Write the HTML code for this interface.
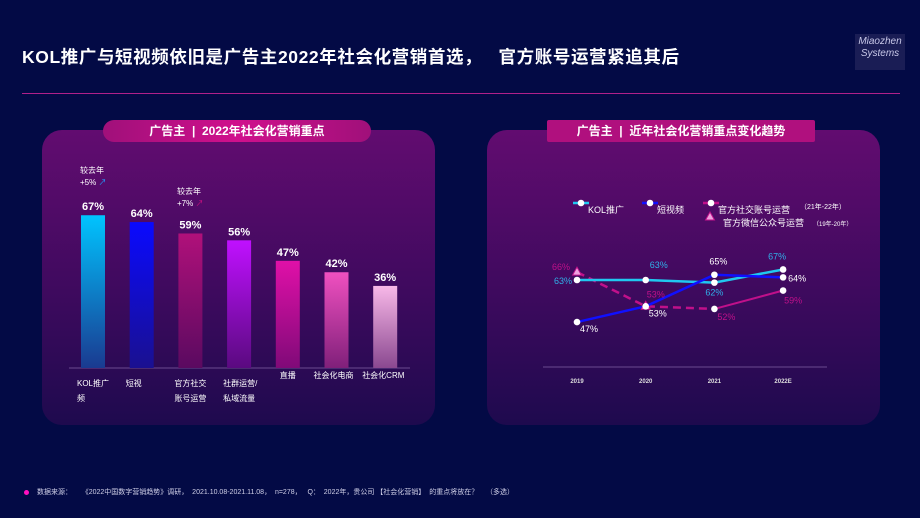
<!DOCTYPE html>
<html><head><meta charset="utf-8">
<style>
body{margin:0;width:920px;height:518px;background:#030a45;overflow:hidden;font-family:"Liberation Sans","Noto Sans CJK SC",sans-serif;color:#fff;position:relative}
.abs{position:absolute}
.panel{position:absolute;top:130px;width:393px;height:295px;border-radius:20px;background:linear-gradient(180deg,#620c70 0%,#3e0a5e 55%,#1e0a4e 100%)}
.pill{position:absolute;height:22px;border-radius:11px;background:linear-gradient(90deg,#a0107a,#d0108c,#a0107a);font-size:12px;font-weight:bold;line-height:22px;text-align:center}
</style></head><body>
<div class="abs" style="left:22px;top:44px;font-size:17.5px;font-weight:bold;letter-spacing:0.6px">KOL推广与短视频依旧是广告主2022年社会化营销首选，&nbsp;&nbsp;&nbsp;官方账号运营紧追其后</div>
<div class="abs" style="left:855px;top:34px;width:50px;height:34px;background:#1a1d55;color:#c8c8e8;font-size:10px;line-height:12px;font-style:italic;text-align:center;padding-top:2px">Miaozhen<br>Systems</div>
<div class="abs" style="left:22px;top:93px;width:878px;height:1px;background:#b0208a"></div>

<div class="panel" style="left:42px"></div>
<div class="pill" style="left:103px;top:120px;width:268px">广告主 &nbsp;|&nbsp; 2022年社会化营销重点</div>
<div class="panel" style="left:487px"></div>
<div class="pill" style="left:547px;top:120px;width:268px;border-radius:2px;background:#b0107e">广告主 &nbsp;|&nbsp; 近年社会化营销重点变化趋势</div>

<svg class="abs" style="left:0;top:0" width="920" height="518" id="svg">
<defs>
<linearGradient id="g0" x1="0" y1="0" x2="0" y2="1"><stop offset="0" stop-color="#00c4ff"/><stop offset="1" stop-color="#1a3a90"/></linearGradient>
<linearGradient id="g1" x1="0" y1="0" x2="0" y2="1"><stop offset="0" stop-color="#0a0aff"/><stop offset="1" stop-color="#1a1090"/></linearGradient>
<linearGradient id="g2" x1="0" y1="0" x2="0" y2="1"><stop offset="0" stop-color="#b0107a"/><stop offset="1" stop-color="#5a0a60"/></linearGradient>
<linearGradient id="g3" x1="0" y1="0" x2="0" y2="1"><stop offset="0" stop-color="#c010ff"/><stop offset="1" stop-color="#5a0a80"/></linearGradient>
<linearGradient id="g4" x1="0" y1="0" x2="0" y2="1"><stop offset="0" stop-color="#e010a8"/><stop offset="1" stop-color="#800a78"/></linearGradient>
<linearGradient id="g5" x1="0" y1="0" x2="0" y2="1"><stop offset="0" stop-color="#f050c0"/><stop offset="1" stop-color="#80207a"/></linearGradient>
<linearGradient id="g6" x1="0" y1="0" x2="0" y2="1"><stop offset="0" stop-color="#f8b8e8"/><stop offset="1" stop-color="#8a4890"/></linearGradient>
</defs>
<line x1="69" y1="368" x2="410" y2="368" stroke="#6a4a90" stroke-width="1"/>
<line x1="543" y1="367" x2="827" y2="367" stroke="#6a4a90" stroke-width="1"/>
<g id="bars"></g><g id="lines"></g>
</svg>

<div class="abs" style="left:80px;top:165px;font-size:8px;line-height:12px">较去年<br>+5% <span style="color:#20a0ff">↗</span></div>
<div class="abs" style="left:177px;top:186px;font-size:8px;line-height:12px">较去年<br>+7% <span style="color:#d01080">↗</span></div>

<div class="abs" style="left:24px;top:490px;width:5px;height:5px;border-radius:50%;background:#ff10c0"></div>
<div class="abs" style="left:37px;top:487px;font-size:7px;color:#d0d0e8;white-space:pre">数据来源：     《2022中国数字营销趋势》调研，  2021.10.08-2021.11.08，  n=278，   Q：  2022年，贵公司 【社会化营销】  的重点将放在？    （多选）</div>

<script>
const barCats=["KOL推广\n频","短视","官方社交\n账号运营","社群运营/\n私域流量","直播","社会化电商","社会化CRM"];
const barVals=[67,64,59,56,47,42,36];
const lineYears=["2019","2020","2021","2022E"];
const kolVals=[63,63,62,67];
const videoVals=[47,53,65,64];
const officialVals=[66,53,52,59];

const NS="http://www.w3.org/2000/svg";
function mk(tag,attrs,parent){const e=document.createElementNS(NS,tag);for(const k in attrs)e.setAttribute(k,attrs[k]);parent.appendChild(e);return e;}
const bars=document.getElementById('bars');
const bx=i=>93+i*48.7, by=v=>368-v*2.28;
barVals.forEach((v,i)=>{
  const r=mk('rect',{x:bx(i)-12,y:by(v),width:24,height:368-by(v),fill:'url(#g'+i+')'},bars);
  
  
  const t=mk('text',{x:bx(i),y:by(v)-5,'text-anchor':'middle','font-size':11,'font-weight':'bold',fill:'#fff'},bars);
  t.textContent=v+'%';
  
  
  barCats[i].split('\n').forEach((ln,j)=>{
    const c=mk('text',{x:i==0?77:bx(i)-(i>=5?23:i==4?8:16),y:(i>=4?378:386)+j*15,'font-size':8,fill:'#fff'},bars);
    c.textContent=ln;
    
    
  });
});

const L=document.getElementById('lines');
const lx=i=>577+i*68.7, ly=v=>280-(v-63)*2.63;
lineYears.forEach((y,i)=>{
  const t=mk('text',{x:lx(i),y:383,'text-anchor':'middle','font-size':6,'font-weight':'bold',fill:'#ddd'},L);
  t.textContent=y;
  
  
});
function pts(vals,a,b){return vals.slice(a,b).map((v,k)=>lx(a+k)+','+ly(v)).join(' ');}
let p=mk('polyline',{points:pts(officialVals,0,3),fill:'none',stroke:'#c0108a','stroke-width':2.5,'stroke-dasharray':'8,5'},L);

p=mk('polyline',{points:pts(officialVals,2,4),fill:'none',stroke:'#c0108a','stroke-width':2},L);

p=mk('polyline',{points:pts(kolVals,0,4),fill:'none',stroke:'#20c8f0','stroke-width':2.5},L);

p=mk('polyline',{points:pts(videoVals,0,4),fill:'none',stroke:'#1010ff','stroke-width':2.5},L);

function dot(x,y,n){const c=mk('circle',{cx:x,cy:y,r:3.3,fill:'#fff'},L);}
function tri(x,y,n){const c=mk('polygon',{points:`${x},${y-5} ${x-4.5},${y+3} ${x+4.5},${y+3}`,fill:'#f0a0e0',stroke:'#c0108a','stroke-width':1},L);}
function lab(x,y,s,col,n,anc,fs){const t=mk('text',{x:x,y:y,'font-size':fs||9,fill:col,'text-anchor':anc||'middle'},L);t.textContent=s;}
officialVals.forEach((v,i)=>{ if(i<2) tri(lx(i),ly(v),'official-point-'+i); else dot(lx(i),ly(v),'official-point-'+i); });
kolVals.forEach((v,i)=>dot(lx(i),ly(v),'kol-point-'+i));
videoVals.forEach((v,i)=>dot(lx(i),ly(v),'video-point-'+i));
const kolOff=[[-14,4],[13,-12],[0,13],[-6,-10]];
kolVals.forEach((v,i)=>lab(lx(i)+kolOff[i][0],ly(v)+kolOff[i][1],v+'%','#30b0e8','kol-label-'+i));
const vidOff=[[12,10],[12,10],[4,-10],[14,4]];
videoVals.forEach((v,i)=>lab(lx(i)+vidOff[i][0],ly(v)+vidOff[i][1],v+'%','#fff','video-label-'+i));
const offOff=[[-16,-2],[10,-9],[12,11],[10,13]];
officialVals.forEach((v,i)=>lab(lx(i)+offOff[i][0],ly(v)+offOff[i][1],v+'%','#c0108a','official-label-'+i));

function legLine(x,y,col,n){const l=mk('line',{x1:x-8,y1:y,x2:x+8,y2:y,stroke:col,'stroke-width':2.5},L);dot(x,y,n+'-marker');}
legLine(581,203,'#20c8f0','legend-kol');lab(588,213,'KOL推广','#fff','legend-kol-text','start');
legLine(650,203,'#1010ff','legend-video');lab(657,213,'短视频','#fff','legend-video-text','start');
legLine(711,203,'#c0108a','legend-official');lab(718,213,'官方社交账号运营','#fff','legend-official-text','start');
lab(800,209,'（21年-22年）','#fff','legend-official-note','start',7);
tri(710,217,'legend-wechat-marker');lab(723,226,'官方微信公众号运营','#fff','legend-wechat-text','start');
lab(813,226,'（19年-20年）','#fff','legend-wechat-note','start',6);
</script>
</body></html>
